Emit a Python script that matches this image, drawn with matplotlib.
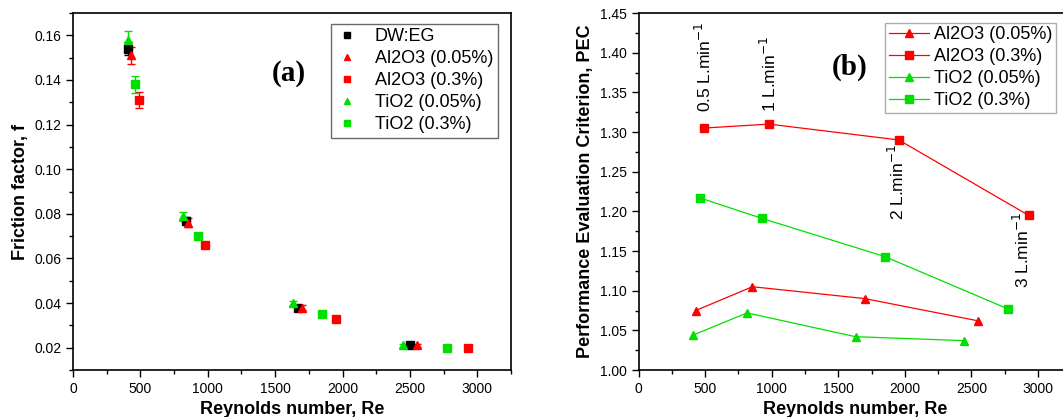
import numpy as np
import matplotlib
matplotlib.use('Agg')
import matplotlib.pyplot as plt
from matplotlib.ticker import MultipleLocator

plt.rcParams['font.family'] = ['Liberation Sans', 'DejaVu Sans']

# (a) friction factor
re_dw = [410, 835, 1670, 2500]
f_dw = [0.154, 0.077, 0.038, 0.021]
re_al005 = [430, 855, 1700, 2550]
f_al005 = [0.151, 0.076, 0.038, 0.021]
re_al03 = [490, 980, 1955, 2930]
f_al03 = [0.131, 0.066, 0.033, 0.020]
re_ti005 = [410, 815, 1630, 2445]
f_ti005 = [0.158, 0.079, 0.040, 0.021]
re_ti03 = [460, 930, 1850, 2775]
f_ti03 = [0.138, 0.070, 0.035, 0.020]
err_dw = [0.003, 0.0015, 0.0008, 0.0005]
err_al005 = [0.004, 0.002, 0.001, 0.0005]
err_al03 = [0.0035, 0.0015, 0.0008, 0.0005]
err_ti005 = [0.004, 0.002, 0.001, 0.0005]
err_ti03 = [0.004, 0.0015, 0.0008, 0.0005]

# (b) PEC
pec_al005 = [1.075, 1.105, 1.090, 1.062]
pec_al03 = [1.305, 1.310, 1.290, 1.195]
pec_ti005 = [1.044, 1.072, 1.042, 1.037]
pec_ti03 = [1.217, 1.191, 1.143, 1.077]

flow_labels = ['0.5 L.min$^{-1}$', '1 L.min$^{-1}$', '2 L.min$^{-1}$', '3 L.min$^{-1}$']
flow_x = [492, 980, 1941, 2877]
flow_y = [1.325, 1.325, 1.189, 1.103]

RED = '#ff0000'
GREEN = '#00e000'

fig = plt.figure(figsize=(10.63, 4.17), dpi=100)
ax1 = fig.add_axes([0.0687, 0.1127, 0.412, 0.856])
ax2 = fig.add_axes([0.6007, 0.1127, 0.407, 0.856])

ms = 6
series_a = [
    (re_dw, f_dw, err_dw, 'black', 's', 'DW:EG'),
    (re_al005, f_al005, err_al005, RED, '^', 'Al2O3 (0.05%)'),
    (re_al03, f_al03, err_al03, RED, 's', 'Al2O3 (0.3%)'),
    (re_ti005, f_ti005, err_ti005, GREEN, '^', 'TiO2 (0.05%)'),
    (re_ti03, f_ti03, err_ti03, GREEN, 's', 'TiO2 (0.3%)'),
]
handles = []
for x, y, e, c, m, lab in series_a:
    ax1.errorbar(x, y, yerr=e, fmt=m, color=c, ms=ms, capsize=3, elinewidth=1, capthick=1)
    h, = ax1.plot([], [], m, color=c, ms=5, label=lab)
    handles.append(h)

leg = ax1.legend(handles=handles, loc='upper right', bbox_to_anchor=(0.97, 0.97),
                 fontsize=13, frameon=True, fancybox=False, edgecolor='#444444',
                 handletextpad=0.9, borderpad=0.25, labelspacing=0.28, handlelength=1.3,
                 borderaxespad=0)
leg.get_frame().set_linewidth(1.0)
ax1.text(1600, 0.1428, '(a)', fontsize=21, fontweight='bold', family='Liberation Serif',
         ha='center', va='center')

ax1.set_xlim(0, 3250)
ax1.set_ylim(0.01, 0.17)
ax1.set_xticks([0, 500, 1000, 1500, 2000, 2500, 3000])
ax1.set_yticks([0.02, 0.04, 0.06, 0.08, 0.10, 0.12, 0.14, 0.16])
ax1.xaxis.set_minor_locator(MultipleLocator(250))
ax1.yaxis.set_minor_locator(MultipleLocator(0.01))
ax1.set_xlabel('Reynolds number, Re', fontsize=13, fontweight='bold')
ax1.set_ylabel('Friction factor, f', fontsize=13, fontweight='bold')

series_b = [
    (re_al005, pec_al005, RED, '^', 'Al2O3 (0.05%)'),
    (re_al03, pec_al03, RED, 's', 'Al2O3 (0.3%)'),
    (re_ti005, pec_ti005, GREEN, '^', 'TiO2 (0.05%)'),
    (re_ti03, pec_ti03, GREEN, 's', 'TiO2 (0.3%)'),
]
for x, y, c, m, lab in series_b:
    ax2.plot(x, y, marker=m, color=c, ms=ms, lw=0.9, label=lab)

leg2 = ax2.legend(loc='upper right', bbox_to_anchor=(0.965, 0.973), fontsize=13,
                  frameon=True, fancybox=False, edgecolor='#999999',
                  handletextpad=0.3, borderpad=0.2, labelspacing=0.28, handlelength=2.2,
                  borderaxespad=0)
leg2.get_frame().set_linewidth(1.0)

for lab, x, y in zip(flow_labels, flow_x, flow_y):
    ax2.text(x, y, lab, rotation=90, fontsize=12.5, ha='center', va='bottom')
ax2.text(1582, 1.381, '(b)', fontsize=21, fontweight='bold', family='Liberation Serif',
         ha='center', va='center')

ax2.set_xlim(0, 3250)
ax2.set_ylim(1.00, 1.45)
ax2.set_xticks([0, 500, 1000, 1500, 2000, 2500, 3000])
ax2.set_yticks(np.arange(1.00, 1.451, 0.05))
ax2.yaxis.set_major_formatter(matplotlib.ticker.FormatStrFormatter('%.2f'))
ax2.xaxis.set_minor_locator(MultipleLocator(250))
ax2.yaxis.set_minor_locator(MultipleLocator(0.025))
ax2.set_xlabel('Reynolds number, Re', fontsize=13, fontweight='bold')
ax2.set_ylabel('Performance Evaluation Criterion, PEC', fontsize=13, fontweight='bold')

for ax in (ax1, ax2):
    ax.tick_params(which='both', direction='out', top=False, right=False, labelsize=10)
    ax.tick_params(which='major', length=5, width=1)
    ax.tick_params(which='minor', length=3, width=1)
    for s in ax.spines.values():
        s.set_linewidth(1.2)

fig.savefig('out.png', dpi=100)
